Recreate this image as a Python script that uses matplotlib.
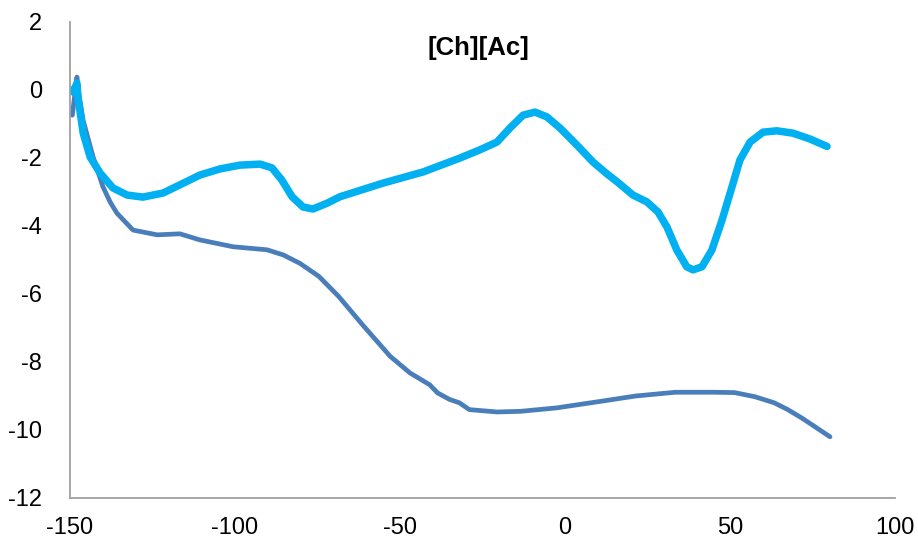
#!/usr/bin/env python3
"""[Ch][Ac] curve pair, redrawn with matplotlib."""
import numpy as np
import matplotlib
matplotlib.use("Agg")
import matplotlib.pyplot as plt

# dark blue series
x_dark = np.array([-149.3, -147.9, -147.2, -146.0, -143.0, -140.0, -137.8, -135.8,
                   -130.9, -123.6, -116.7, -110.6, -100.6, -90.3, -85.4, -80.3,
                   -74.6, -68.6, -61.4, -53.0, -47.0, -41.0, -38.6, -35.0, -32.0,
                   -29.0, -20.6, -13.4, -2.6, 10.6, 21.4, 33.4, 45.4, 51.4, 57.5,
                   63.4, 67.5, 71.8, 76.0, 80.3])
y_dark = np.array([-0.74, 0.38, -0.2, -0.9, -1.97, -2.85, -3.3, -3.62,
                   -4.12, -4.26, -4.23, -4.41, -4.61, -4.7, -4.85, -5.1,
                   -5.48, -6.07, -6.9, -7.83, -8.32, -8.67, -8.91, -9.1, -9.2,
                   -9.4, -9.47, -9.45, -9.35, -9.16, -9.0, -8.89, -8.89, -8.9, -9.02,
                   -9.2, -9.4, -9.65, -9.92, -10.2])

# light blue series
x_light = np.array([-150.0, -149.0, -147.9, -147.6, -146.0, -143.9, -140.9, -137.0,
                    -132.7, -127.9, -121.8, -116.7, -110.6, -104.5, -98.5, -92.4,
                    -88.8, -85.8, -82.7, -79.4, -76.4, -72.1, -68.2, -55.2, -43.0,
                    -31.8, -25.8, -20.6, -16.7, -12.7, -9.1, -5.5, -1.5, 3.6, 8.5,
                    12.5, 15.8, 20.6, 24.8, 28.2, 30.9, 33.9, 36.9, 38.8, 41.5,
                    44.5, 47.6, 50.6, 53.0, 56.1, 60.0, 64.2, 69.1, 74.2, 79.4])
y_light = np.array([0.0, -0.06, 0.2, -0.2, -1.27, -1.97, -2.44, -2.88,
                    -3.09, -3.15, -3.03, -2.79, -2.5, -2.32, -2.21, -2.18,
                    -2.29, -2.65, -3.14, -3.44, -3.5, -3.33, -3.14, -2.74, -2.41,
                    -2.0, -1.76, -1.53, -1.12, -0.74, -0.65, -0.79, -1.12, -1.62, -2.12,
                    -2.45, -2.7, -3.09, -3.29, -3.59, -4.03, -4.71, -5.2, -5.29, -5.2,
                    -4.71, -3.82, -2.85, -2.06, -1.53, -1.24, -1.2, -1.27, -1.44, -1.66])

TITLE = "[Ch][Ac]"
X_TICKS = [-150, -100, -50, 0, 50, 100]
Y_TICKS = [2, 0, -2, -4, -6, -8, -10, -12]

plt.rcParams["font.family"] = ["Liberation Sans", "DejaVu Sans"]
plt.rcParams["axes.unicode_minus"] = False

fig = plt.figure(figsize=(9.18, 5.44), dpi=100)
ax = fig.add_axes([70 / 918, 1 - 498 / 544, (895 - 70) / 918, (498 - 22) / 544])

ax.plot(x_dark, y_dark, color="#4a7ebb", lw=3.4, solid_capstyle="round",
        solid_joinstyle="round")
ax.plot(x_light, y_light, color="#00b0f0", lw=5.4, solid_capstyle="round",
        solid_joinstyle="round")

ax.set_xlim(-150, 100)
ax.set_ylim(-12, 2)
ax.set_xticks(X_TICKS)
ax.set_yticks(Y_TICKS)
ax.tick_params(length=0, labelsize=17)
ax.tick_params(axis="y", pad=20)
ax.tick_params(axis="x", pad=14)

for s in ("top", "right"):
    ax.spines[s].set_visible(False)
for s in ("left", "bottom"):
    ax.spines[s].set_color("#a0a0a0")
    ax.spines[s].set_linewidth(1.3)

ax.text(0.495, 0.945, TITLE, transform=ax.transAxes, ha="center", va="center",
        fontsize=18.5, fontweight="bold")

fig.savefig("out.png", dpi=100)
